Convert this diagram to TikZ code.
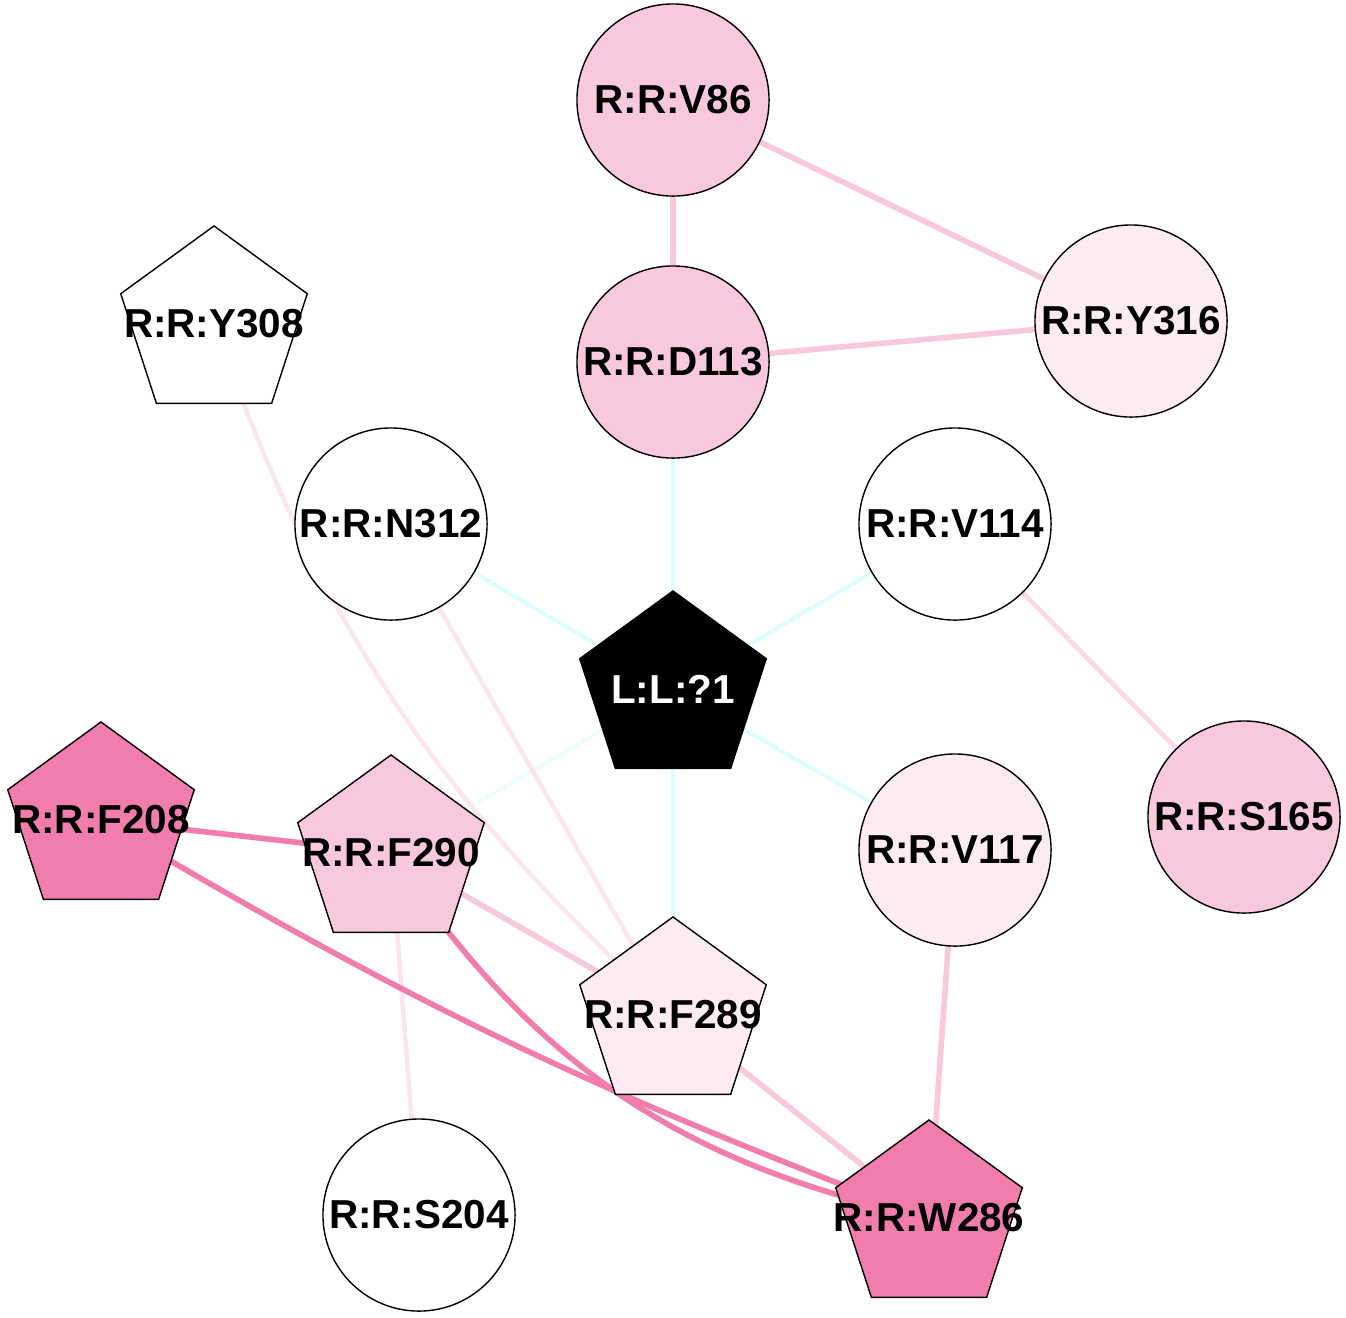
\documentclass[tikz,border=0pt]{standalone}
\usepackage{fontspec}
\setmainfont{Liberation Sans}
\usetikzlibrary{shapes.geometric, backgrounds}

\definecolor{pinkmid}{RGB}{248,200,220}
\definecolor{pinklight}{RGB}{252,235,242}
\definecolor{pinkdark}{RGB}{240,125,171}
\definecolor{pinkfaint}{RGB}{251,230,238}
\definecolor{cyanedge}{RGB}{218,255,255}
\definecolor{cyanfaint}{RGB}{236,255,255}

% Zero-width label, so that the text does not widen the pentagon.
\newcommand{\reslabel}[1]{\makebox[0pt]{#1}}

\begin{document}
\begin{tikzpicture}[%
        x = 0.01cm,
        y = -0.01cm,
        res/.style = {
            draw = black,
            line width = 0.4pt,
            inner sep = 0pt,
            font = \fontsize{11.5}{13}\selectfont\bfseries
        },
        circ/.style = {res, circle, minimum size = 1.92cm},
        penta/.style = {res, regular polygon, regular polygon sides = 5,
            minimum size = 1.96cm},
        ligand/.style = {line width = 1.1pt, cyanedge},
        weakedge/.style = {line width = 1.3pt, pinkfaint},
        midedge/.style = {line width = 1.6pt, pinkmid},
        strongedge/.style = {line width = 1.6pt, pinkdark}
    ]

        % Fix the page to the size of the reference.
        \useasboundingbox (0, 0) rectangle (1346, 1317);

        % Residue nodes.
        \node[circ, fill = pinkmid] (v86) at (673, 100) {R:R:V86};
        \node[circ, fill = pinkmid] (d113) at (673, 362) {R:R:D113};
        \node[circ, fill = pinklight] (y316) at (1131, 321) {R:R:Y316};
        \node[penta, fill = white] (y308) at (214, 324) {\reslabel{R:R:Y308}};
        \node[circ, fill = white] (n312) at (391, 524) {R:R:N312};
        \node[circ, fill = white] (v114) at (955, 524) {R:R:V114};
        \node[penta, fill = black, text = white] (lig) at (673, 689) {\reslabel{L:L:?1}};
        \node[penta, fill = pinkdark] (f208) at (101, 820) {\reslabel{R:R:F208}};
        \node[circ, fill = pinkmid] (s165) at (1244, 817) {R:R:S165};
        \node[penta, fill = pinkmid] (f290) at (391, 853) {\reslabel{R:R:F290}};
        \node[circ, fill = pinklight] (v117) at (955, 850) {R:R:V117};
        \node[penta, fill = pinklight] (f289) at (673, 1015) {\reslabel{R:R:F289}};
        \node[circ, fill = white] (s204) at (419, 1215) {R:R:S204};
        \node[penta, fill = pinkdark] (w286) at (929, 1218) {\reslabel{R:R:W286}};

        % Contacts, drawn under the nodes.
        \begin{scope}[on background layer]
            % Ligand contacts.
            \draw[ligand] (lig.center) to (d113.center);
            \draw[ligand] (lig.center) to (n312.center);
            \draw[ligand] (lig.center) to (v114.center);
            \draw[ligand] (lig.center) to (v117.center);
            \draw[ligand] (lig.center) to (f289.center);
            \draw[ligand, cyanfaint] (lig.center) to (f290.center);

            % Residue contacts.
            \draw[midedge] (v86.center) to (d113.center);
            \draw[midedge] (v86.center) to (y316.center);
            \draw[midedge] (d113.center) to (y316.center);
            \draw[weakedge] (y308.center) to [bend right = 14] (f289.center);
            \draw[weakedge] (n312.center) to (f289.center);
            \draw[weakedge, pinkmid!70!white] (v114.center) to (s165.center);
            \draw[weakedge] (f290.center) to (s204.center);
            \draw[midedge] (f290.center) to (f289.center);
            \draw[midedge] (f289.center) to (w286.center);
            \draw[midedge] (v117.center) to (w286.center);
            \draw[strongedge] (f208.center) to (f290.center);
            \draw[strongedge] (f208.center) to [bend right = 5] (w286.center);
            \draw[strongedge] (f290.center) to [bend right = 22] (w286.center);
        \end{scope}
    \end{tikzpicture}
\end{document}
